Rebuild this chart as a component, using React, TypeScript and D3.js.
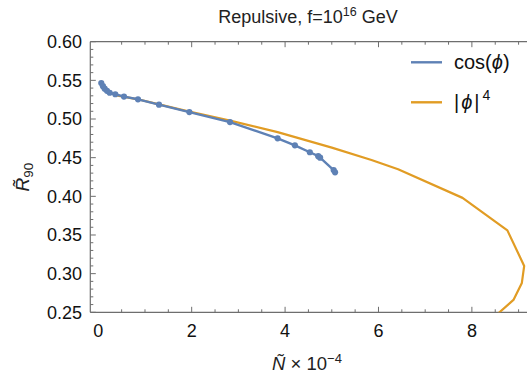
import React from "react";
import * as d3 from "d3";

const cosN = [0.064, 0.10, 0.137, 0.186, 0.244, 0.364, 0.55, 0.85, 1.30, 1.95, 2.82, 3.84, 4.21, 4.53, 4.71, 4.75, 5.04, 5.07];
const cosR = [0.5465, 0.5425, 0.5392, 0.5365, 0.534, 0.532, 0.529, 0.5255, 0.5185, 0.509, 0.496, 0.475, 0.466, 0.457, 0.452, 0.450, 0.434, 0.431];

const quartN = [0.36, 0.85, 1.30, 1.95, 2.82, 3.84, 5.0, 5.85, 6.42, 7.80, 8.76, 9.12, 9.07, 8.89, 8.59, 8.3];
const quartR = [0.531, 0.5255, 0.519, 0.5095, 0.498, 0.483, 0.463, 0.447, 0.435, 0.398, 0.356, 0.310, 0.288, 0.266, 0.25, 0.232];

const xMajor = [0, 2, 4, 6, 8];
const yMajor = [0.25, 0.3, 0.35, 0.4, 0.45, 0.5, 0.55, 0.6];

const BLUE = "#5E81B5";
const ORANGE = "#E19C24";
const AXIS = "#6e6e6e";
const FONT = "'Liberation Sans', Arial, sans-serif";

export default function App() {
  const left = 90.3, top = 41.7, bottom = 312.3;
  const x = d3.scaleLinear().domain([-0.171, 9.3]).range([left, left + 9.471 * 46.7]);
  const y = d3.scaleLinear().domain([0.25, 0.6]).range([bottom, top]);
  const right = x(9.3);

  const line = d3.line<[number, number]>().x((d) => x(d[0])).y((d) => y(d[1]));
  const cosPts: [number, number][] = cosN.map((n, i) => [n, cosR[i]]);
  const quartPts: [number, number][] = quartN.map((n, i) => [n, quartR[i]]);

  const xMinor = d3.range(0.5, 9.3, 0.5).filter((v) => Math.abs(v % 2) > 1e-6);
  const yMinor = d3.range(0.25, 0.6001, 0.01).filter((v) => !yMajor.some((m) => Math.abs(m - v) < 1e-6));

  return (
    <div style={{ position: "absolute", left: 0, top: 0 }}>
      <svg width={527} height={374} style={{ display: "block" }} fontFamily={FONT}>
        <defs>
          <clipPath id="plot">
            <rect x={left} y={top} width={right - left} height={bottom - top} />
          </clipPath>
        </defs>
        <text x={308} y={23} textAnchor="middle" fontSize={18} fill="#222">
          Repulsive, f=10<tspan fontSize={12.5} dy={-7}>16</tspan>
          <tspan dy={7}> GeV</tspan>
        </text>

        {/* frame */}
        <line x1={left} x2={right} y1={bottom} y2={bottom} stroke={AXIS} strokeWidth={1.2} />
        <line x1={left} x2={right} y1={top} y2={top} stroke={AXIS} strokeWidth={1.2} />
        <line x1={left} x2={left} y1={top} y2={bottom} stroke={AXIS} strokeWidth={1.2} />

        {/* x ticks */}
        {xMajor.map((v) => (
          <g key={"xm" + v}>
            {v !== 0 && <line x1={x(v)} x2={x(v)} y1={bottom} y2={bottom - 5.5} stroke={AXIS} />}
            {v !== 0 && <line x1={x(v)} x2={x(v)} y1={top} y2={top + 5.5} stroke={AXIS} />}
            <text x={x(v)} y={337} textAnchor="middle" fontSize={18} fill="#111">{v}</text>
          </g>
        ))}
        {xMinor.map((v) => (
          <g key={"xn" + v}>
            <line x1={x(v)} x2={x(v)} y1={bottom} y2={bottom - 3} stroke={AXIS} />
            <line x1={x(v)} x2={x(v)} y1={top} y2={top + 3} stroke={AXIS} />
          </g>
        ))}

        {/* y ticks */}
        {yMajor.map((v) => (
          <g key={"ym" + v}>
            <line x1={left} x2={left + 5.5} y1={y(v)} y2={y(v)} stroke={AXIS} />
            <text x={82} y={y(v) + 6.3} textAnchor="end" fontSize={18} fill="#111">{v.toFixed(2)}</text>
          </g>
        ))}
        {yMinor.map((v) => (
          <line key={"yn" + v} x1={left} x2={left + 3} y1={y(v)} y2={y(v)} stroke={AXIS} />
        ))}

        {/* axis labels */}
        <text x={307} y={370} textAnchor="middle" fontSize={18.5} fill="#222">
          <tspan fontStyle="italic">Ñ</tspan> × 10<tspan fontSize={13} dy={-7}>−4</tspan>
        </text>
        <text transform="translate(29,177) rotate(-90)" textAnchor="middle" fontSize={19} fill="#222">
          <tspan fontStyle="italic">R̃</tspan>
          <tspan fontSize={13.5} dy={4}>90</tspan>
        </text>

        {/* data */}
        <g clipPath="url(#plot)">
          <path d={line(quartPts) ?? ""} fill="none" stroke={ORANGE} strokeWidth={2.2} strokeLinejoin="round" />
          <path d={line(cosPts) ?? ""} fill="none" stroke={BLUE} strokeWidth={2.4} strokeLinejoin="round" />
          {cosPts.map((p, i) => (
            <circle key={i} cx={x(p[0])} cy={y(p[1])} r={3.1} fill={BLUE} />
          ))}
        </g>

        {/* legend */}
        <line x1={411} x2={442} y1={62.3} y2={62.3} stroke={BLUE} strokeWidth={2.4} />
        <text x={454} y={69} fontSize={20} fill="#111">
          cos(<tspan fontStyle="italic">ϕ</tspan>)
        </text>
        <line x1={411} x2={442} y1={102.3} y2={102.3} stroke={ORANGE} strokeWidth={2.4} />
        <text x={454} y={109} fontSize={20} fill="#111">
          |<tspan fontStyle="italic" dx={2}>ϕ</tspan><tspan dx={2}>|</tspan><tspan fontSize={14} dx={3} dy={-9}>4</tspan>
        </text>
      </svg>
    </div>
  );
}
